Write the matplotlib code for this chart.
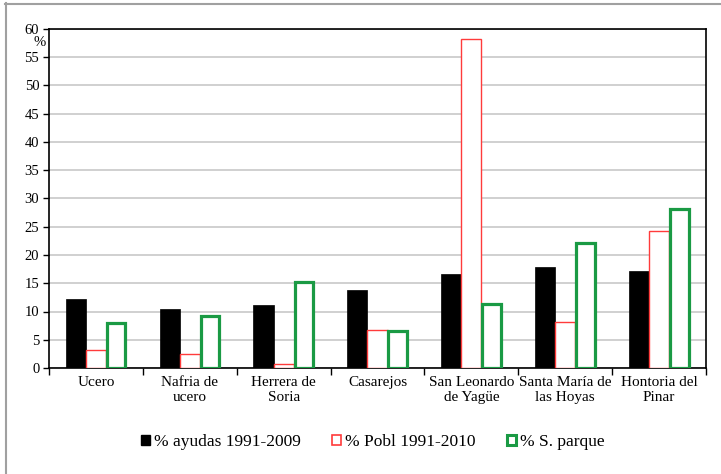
import matplotlib
matplotlib.use("Agg")
import matplotlib.pyplot as plt
from matplotlib.patches import Patch
from matplotlib.lines import Line2D
import numpy as np

plt.rcParams['font.family'] = ['Liberation Serif', 'DejaVu Serif']

categories = ["Ucero", "Nafria de\nucero", "Herrera de\nSoria", "Casarejos",
              "San Leonardo\nde Yagüe", "Santa María de\nlas Hoyas", "Hontoria del\nPinar"]
ayudas = [12.2, 10.5, 11.1, 13.8, 16.6, 17.8, 17.2]
pobl = [3.1, 2.4, 0.7, 6.7, 58.2, 8.1, 24.2]
parque = [7.9, 9.2, 15.3, 6.6, 11.4, 22.2, 28.1]
series_labels = ["% ayudas 1991-2009", "% Pobl 1991-2010", "% S. parque"]
yticks = list(range(0, 61, 5))

red = "#ff3b3b"
green = "#1a9a44"

fig = plt.figure(figsize=(7.21, 4.74), dpi=100)
ax = fig.add_axes([49/721, 1-368/474, 657/721, 339/474])

x = np.arange(len(categories))
w = 0.215
ax.bar(x - w, ayudas, w, color="black", edgecolor="black", linewidth=0.5, zorder=3)
ax.bar(x, pobl, w, facecolor="white", edgecolor=red, linewidth=1.0, zorder=3)
ax.bar(x + w, parque, w*0.92, facecolor="white", edgecolor=green, linewidth=2.3, zorder=3)

ax.set_xlim(-0.5, len(categories) - 0.5)
ax.set_ylim(0, 60)
ax.set_yticks(yticks)
ax.set_yticklabels([str(v) for v in yticks], fontsize=10.5)
ax.yaxis.grid(True, color="#c8c8c8", linewidth=1.2, zorder=0)
ax.set_axisbelow(True)

ax.set_xticks(np.arange(-0.5, len(categories), 1.0))
ax.set_xticklabels([])
ax.tick_params(axis='x', direction='out', length=5, width=1)
ax.tick_params(axis='y', direction='out', length=4, width=1, pad=3)
for i, c in enumerate(categories):
    ax.text(i, -1.4, c, ha='center', va='top', fontsize=11, linespacing=1.2)

for s in ax.spines.values():
    s.set_linewidth(1.2)
    s.set_color("black")

fig.text(40/721, 1-43/474, "%", ha='center', va='center', fontsize=10.5)

handles = [Patch(facecolor="black", edgecolor="black"),
           Patch(facecolor="white", edgecolor=red, linewidth=1.2),
           Patch(facecolor="white", edgecolor=green, linewidth=2.2)]
fig.legend(handles, series_labels, loc='center', bbox_to_anchor=(373/721, 1-442/474),
           ncol=3, frameon=False, fontsize=12.5, handlelength=0.5, handleheight=0.5,
           handletextpad=0.25, columnspacing=1.8)

# outer frame (left and top edges)
fig.add_artist(Line2D([5.5/721, 5.5/721], [0, 1-3/474], transform=fig.transFigure,
                      color="#a0a0a0", linewidth=1.5))
fig.add_artist(Line2D([5/721, 1], [1-3.5/474, 1-3.5/474], transform=fig.transFigure,
                      color="#a0a0a0", linewidth=1.5))

fig.savefig("out.png", dpi=100)
